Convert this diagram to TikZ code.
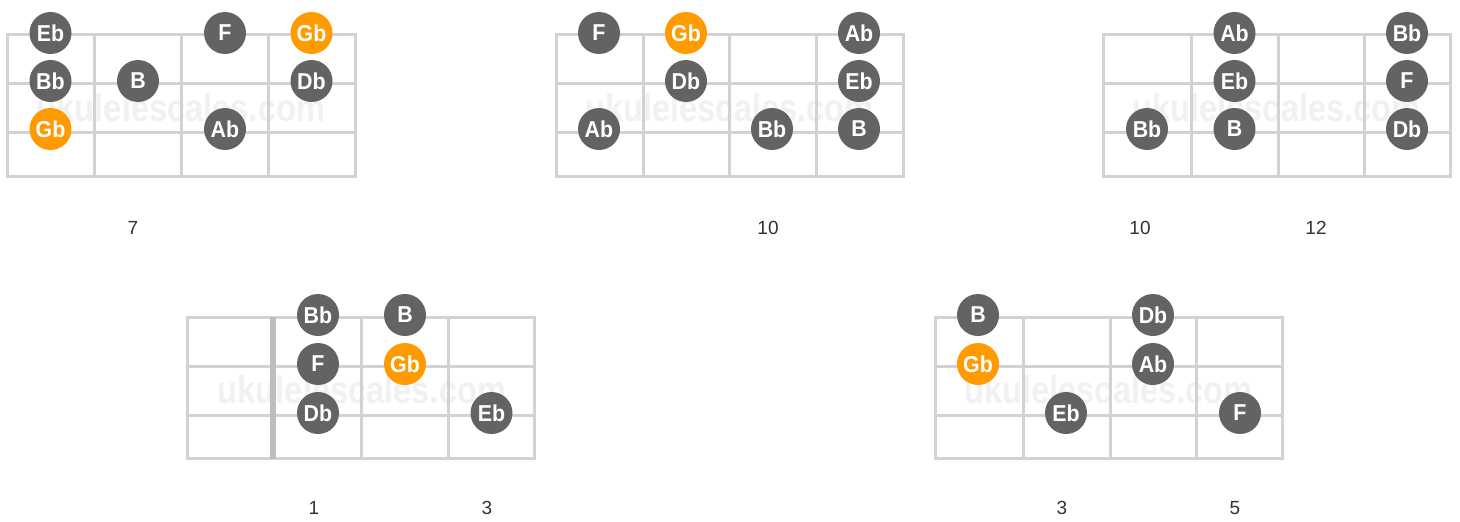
\documentclass[tikz,border=0pt]{standalone}
\usepackage{fontspec}
\usepackage{graphicx}
\newfontfamily\notefont[FakeStretch=0.93]{Liberation Sans Bold}
\newfontfamily\numfont{Liberation Sans}
\newfontfamily\wmfont[FakeStretch=0.8]{Liberation Sans Bold}
\definecolor{gridgray}{HTML}{D2D2D2}
\definecolor{dotgray}{HTML}{636363}
\definecolor{rootorange}{HTML}{FF9A00}
\definecolor{wmgray}{HTML}{F1F1F1}
\definecolor{numgray}{HTML}{333333}
\tikzset{
  gridline/.style={draw=gridgray, line width=3pt, line cap=rect},
  nutline/.style={draw=gridgray!90!black, line width=6pt},
  note/.style={circle, fill=dotgray, minimum size=42pt, inner sep=0pt, text=white,
    font=\notefont\fontsize{23}{23}\selectfont},
  root/.style={note, fill=rootorange},
  fretnum/.style={text=numgray, font=\numfont\fontsize{19}{19}\selectfont, inner sep=0pt},
  watermark/.style={text=wmgray, inner sep=0pt}
}
\newcommand\wmtext{\resizebox{288pt}{28pt}{\wmfont ukulelescales.com}}
\begin{document}
\begin{tikzpicture}[x=1pt,y=-1pt]
\path[use as bounding box, fill=white] (0,0) rectangle (1460,522);

% ---------- watermarks ----------
\node[watermark] (wm1) at (181,108) {\wmtext};
\node[watermark] (wm2) at (729.5,108) {\wmtext};
\node[watermark] (wm3) at (1276.5,108) {\wmtext};
\node[watermark] (wm4) at (362,390) {\wmtext};
\node[watermark] (wm5) at (1108.5,390) {\wmtext};

% ---------- diagram 1 ----------
\foreach \x in {7,94,181,268,355} \draw[gridline] (\x,34) -- (\x,176);
\foreach \y in {34,83,132,176} \draw[gridline] (7,\y) -- (355,\y);
% ---------- diagram 2 ----------
\foreach \x in {556,643,729,816,903} \draw[gridline] (\x,34) -- (\x,176);
\foreach \y in {34,83,132,176} \draw[gridline] (556,\y) -- (903,\y);
% ---------- diagram 3 ----------
\foreach \x in {1103,1191,1278,1364,1450} \draw[gridline] (\x,34) -- (\x,176);
\foreach \y in {34,83,132,176} \draw[gridline] (1103,\y) -- (1450,\y);
% ---------- diagram 4 ----------
\foreach \x in {187,361,448,534} \draw[gridline] (\x,317) -- (\x,458);
\foreach \y in {317,366,415,458} \draw[gridline] (187,\y) -- (534,\y);
\draw[nutline] (272.5,317) -- (272.5,459);
% ---------- diagram 5 ----------
\foreach \x in {935,1023,1110,1196,1282} \draw[gridline] (\x,317) -- (\x,458);
\foreach \y in {317,366,415,458} \draw[gridline] (935,\y) -- (1282,\y);

% ---------- notes diagram 1 ----------
\node[note] (a1) at (50.5,33) {Eb};
\node[note] (a2) at (225,33) {F};
\node[root] (a3) at (311.5,33) {Gb};
\node[note] (a4) at (50.5,81) {Bb};
\node[note] (a5) at (138,81) {B};
\node[note] (a6) at (311.5,81) {Db};
\node[root] (a7) at (50.5,129) {Gb};
\node[note] (a8) at (225,129) {Ab};
% ---------- notes diagram 2 ----------
\node[note] (b1) at (599,33) {F};
\node[root] (b2) at (686,33) {Gb};
\node[note] (b3) at (859,33) {Ab};
\node[note] (b4) at (686,81) {Db};
\node[note] (b5) at (859,81) {Eb};
\node[note] (b6) at (599,129) {Ab};
\node[note] (b7) at (772,129) {Bb};
\node[note] (b8) at (859,129) {B};
% ---------- notes diagram 3 ----------
\node[note] (c1) at (1234.5,33) {Ab};
\node[note] (c2) at (1407,33) {Bb};
\node[note] (c3) at (1234.5,81) {Eb};
\node[note] (c4) at (1407,81) {F};
\node[note] (c5) at (1147,129) {Bb};
\node[note] (c6) at (1234.5,129) {B};
\node[note] (c7) at (1407,129) {Db};
% ---------- notes diagram 4 ----------
\node[note] (d1) at (318,315) {Bb};
\node[note] (d2) at (405,315) {B};
\node[note] (d3) at (318,364) {F};
\node[root] (d4) at (405,364) {Gb};
\node[note] (d5) at (318,413) {Db};
\node[note] (d6) at (491.5,413) {Eb};
% ---------- notes diagram 5 ----------
\node[note] (e1) at (978,315) {B};
\node[note] (e2) at (1153,315) {Db};
\node[root] (e3) at (978,364) {Gb};
\node[note] (e4) at (1153,364) {Ab};
\node[note] (e5) at (1066,413) {Eb};
\node[note] (e6) at (1240,413) {F};

% ---------- fret numbers ----------
\node[fretnum] (n1) at (133,228) {7};
\node[fretnum] (n2) at (768,228) {10};
\node[fretnum] (n3) at (1140,228) {10};
\node[fretnum] (n4) at (1316,228) {12};
\node[fretnum] (n5) at (314,508) {1};
\node[fretnum] (n6) at (487,508) {3};
\node[fretnum] (n7) at (1062,508) {3};
\node[fretnum] (n8) at (1235,508) {5};
\end{tikzpicture}
\end{document}
